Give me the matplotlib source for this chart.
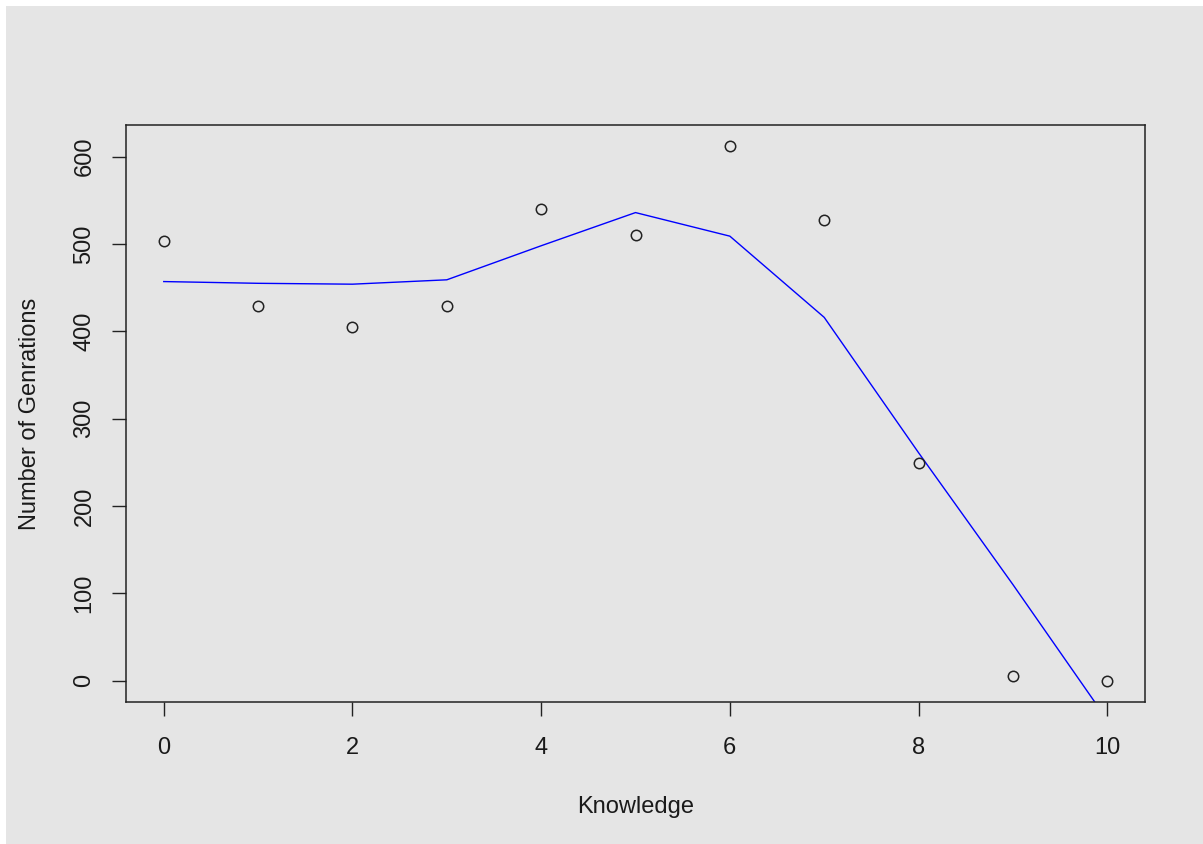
import matplotlib
matplotlib.use("Agg")
import matplotlib.pyplot as plt
from matplotlib.patches import Rectangle

knowledge = [0, 1, 2, 3, 4, 5, 6, 7, 8, 9, 10]
generations = [503, 429, 405, 429, 540, 510, 612, 528, 249, 5, 0]
smooth_fit = [457, 455, 454, 459, 498, 536, 509, 416, 261, 110, -45]
x_ticks = [0, 2, 4, 6, 8, 10]
y_ticks = [0, 100, 200, 300, 400, 500, 600]

plt.rcParams['font.family'] = ['Liberation Sans', 'DejaVu Sans']
bg = '#e5e5e5'
W, H = 1203, 844
fig = plt.figure(figsize=(W / 100, H / 100), dpi=100, facecolor='white')
fig.patches.append(Rectangle((6 / W, 0), 1, 1 - 6 / H, transform=fig.transFigure,
                             facecolor=bg, edgecolor='none', zorder=-10))

left, right, top, bottom = 126, 1145, 125, 702
ax = fig.add_axes([left / W, 1 - bottom / H, (right - left) / W, (bottom - top) / H])
ax.set_facecolor(bg)

ax.plot(knowledge, smooth_fit, color='blue', lw=1.0, zorder=2)
ax.plot(knowledge, generations, linestyle='none', marker='o', markersize=7.5,
        markerfacecolor='none', markeredgecolor='#222222', markeredgewidth=1.1, zorder=3)

ax.set_xlim(-0.4, 10.4)
ax.set_ylim(-24.5, 636.3)
ax.set_xticks(x_ticks)
ax.set_yticks(y_ticks)
ax.tick_params(axis='both', direction='out', length=10, width=1, color='#222222',
               labelsize=17, labelcolor='#1a1a1a')
ax.tick_params(axis='x', pad=15.5)
ax.tick_params(axis='y', pad=12)
for lab in ax.get_yticklabels():
    lab.set_rotation(90)
    lab.set_va('center')
for s in ax.spines.values():
    s.set_color('#222222')
    s.set_linewidth(1.1)

ax.set_xlabel('Knowledge', fontsize=17, color='#1a1a1a', labelpad=26)
ax.set_ylabel('Number of Genrations', fontsize=17, color='#1a1a1a', labelpad=23.5)

fig.savefig('out.png', dpi=100, facecolor='white')
